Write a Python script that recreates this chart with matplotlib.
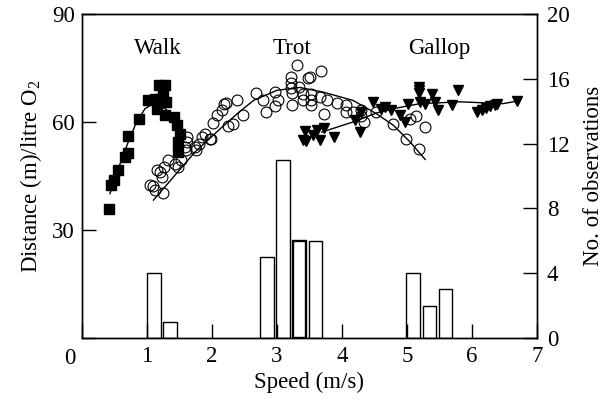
import matplotlib
matplotlib.use("Agg")
import matplotlib.pyplot as plt

plt.rcParams['font.family'] = ['Liberation Serif', 'DejaVu Serif']
plt.rcParams['mathtext.fontset'] = 'custom'
plt.rcParams['mathtext.rm'] = 'Liberation Serif'

# ---------------- data ----------------
walk_speed = [0.42, 0.45, 0.50, 0.56, 0.66, 0.71, 0.71, 0.87, 1.02, 1.12, 1.19, 1.27,
              1.25, 1.15, 1.27, 1.42, 1.46, 1.51, 1.48, 1.48, 1.20, 1.30]
walk_dist = [35.9, 42.4, 44.0, 46.8, 50.3, 51.5, 56.1, 60.7, 66.0, 66.3, 70.2, 70.2,
             67.6, 63.7, 61.9, 61.4, 59.1, 56.8, 54.4, 51.7, 66.5, 65.5]

trot_speed = [1.05, 1.10, 1.13, 1.24, 1.15, 1.23, 1.26, 1.20, 1.33, 1.43, 1.47, 1.53,
              1.58, 1.61, 1.62, 1.60, 1.74, 1.76, 1.80, 1.84, 1.89, 1.97, 1.99, 2.02,
              2.07, 2.16, 2.18, 2.22, 2.38, 2.25, 2.32, 2.47, 2.68, 2.78, 2.83, 2.97,
              2.97, 3.02, 3.23, 3.23, 3.21, 3.21, 3.22, 3.31, 3.34, 3.40, 3.40, 3.47,
              3.51, 3.67, 3.52, 3.52, 3.52, 3.66, 3.72, 3.77, 3.92, 4.06, 4.06, 4.17,
              4.29, 4.30, 4.34, 4.52, 4.79, 5.04, 5.14, 5.28, 4.98, 5.19]
trot_dist = [42.4, 42.1, 41.0, 40.3, 46.6, 44.7, 47.5, 46.0, 49.4, 48.4, 47.5, 49.4,
             53.1, 55.8, 54.4, 52.1, 53.1, 52.1, 54.0, 55.8, 56.8, 55.4, 55.4, 59.7,
             61.9, 63.3, 65.1, 65.3, 66.2, 58.8, 59.4, 61.9, 68.1, 66.2, 62.8, 68.3,
             64.4, 66.0, 64.6, 68.1, 70.7, 72.5, 69.5, 75.7, 69.7, 67.9, 66.2, 72.1,
             72.5, 74.2, 67.9, 66.2, 64.6, 66.9, 62.1, 66.0, 65.3, 64.6, 62.8, 62.8,
             63.3, 61.6, 60.0, 62.8, 59.5, 60.7, 61.6, 58.6, 55.4, 52.6]

gallop_speed = [3.43, 3.45, 3.40, 3.55, 3.61, 3.66, 3.72, 3.87, 4.20, 4.28, 4.30, 4.47,
                4.60, 4.66, 4.76, 4.89, 4.97, 5.02, 5.18, 5.18, 5.18, 5.20, 5.28, 5.38,
                5.43, 5.48, 5.69, 5.79, 6.07, 6.15, 6.22, 6.28, 6.35, 6.39, 6.69]
gallop_dist = [57.5, 54.7, 55.0, 56.5, 57.7, 55.1, 58.4, 55.7, 60.5, 57.2, 62.8, 65.6,
               63.5, 64.2, 63.3, 61.9, 60.0, 65.1, 69.7, 68.8, 68.0, 65.6, 65.1, 67.9,
               65.6, 63.3, 64.6, 69.0, 62.8, 63.4, 64.0, 64.4, 64.6, 64.9, 65.8]

walk_curve_speed = [0.43, 0.50, 0.56, 0.64, 0.71, 0.84, 0.97, 1.05, 1.12, 1.20, 1.30]
walk_curve_dist = [40.1, 43.8, 47.1, 51.0, 54.4, 60.0, 63.7, 64.6, 64.8, 64.5, 63.5]

trot_curve_speed = [1.10, 1.43, 1.74, 2.12, 2.40, 2.64, 3.00, 3.35, 3.71, 4.17, 4.53, 4.79, 5.05, 5.28]
trot_curve_dist = [38.3, 45.2, 51.7, 58.0, 62.5, 66.0, 68.8, 69.6, 68.3, 66.0, 62.3, 59.1, 54.4, 49.6]

gallop_curve_speed = [3.69, 4.22, 4.53, 4.79, 5.20, 5.82, 6.48, 6.69]
gallop_curve_dist = [57.2, 60.3, 62.5, 63.7, 65.1, 65.6, 65.1, 65.8]

bar_left = [1.0, 1.25, 2.74, 2.99, 3.24, 3.49, 4.99, 5.24, 5.49]
bar_count = [4, 1, 5, 11, 6, 6, 4, 2, 3]

x_ticks = [0, 1, 2, 3, 4, 5, 6, 7]
left_ticks = [0, 30, 60, 90]
right_ticks = [0, 4, 8, 12, 16, 20]

gait_names = ['Walk', 'Trot', 'Gallop']
gait_label_x = [1.17, 3.23, 5.5]
gait_label_y = [80.5, 80.5, 80.5]

# ---------------- figure ----------------
fig = plt.figure(figsize=(6.16, 4.01), dpi=100)
ax = fig.add_axes([0.1331, 0.1571, 0.7386, 0.808])
ax2 = ax.twinx()

fs = 16.5

ax2.bar(bar_left, bar_count, width=0.21, align='edge', facecolor='none',
        edgecolor='black', linewidth=[1.0, 1.0, 1.0, 1.0, 1.7, 1.0, 1.0, 1.0, 1.0])

ax.plot(walk_curve_speed, walk_curve_dist, color='black', lw=1.0, zorder=2)
ax.plot(trot_curve_speed, trot_curve_dist, color='black', lw=1.0, zorder=2)
ax.plot(gallop_curve_speed, gallop_curve_dist, color='black', lw=1.0, zorder=2)

ax.plot(walk_speed, walk_dist, ls='none', marker='s', ms=6.5, mfc='black',
        mec='black', zorder=3)
ax.plot(trot_speed, trot_dist, ls='none', marker='o', ms=7.8, mfc='none',
        mec='black', mew=0.8, zorder=3)
ax.plot(gallop_speed, gallop_dist, ls='none', marker='v', ms=7.5, mfc='black',
        mec='black', zorder=3)

for name, gx, gy in zip(gait_names, gait_label_x, gait_label_y):
    ax.text(gx, gy, name, ha='center', va='center', fontsize=fs)

ax.set_xlim(0, 7)
ax.set_ylim(0, 90)
ax2.set_ylim(0, 20)

ax.set_xticks(x_ticks)
ax.set_xticklabels([''] + [str(t) for t in x_ticks[1:]])
ax.annotate('0', xy=(0, 0), xycoords='data', xytext=(-9, -7),
            textcoords='offset points', ha='center', va='top', fontsize=fs)
ax.set_yticks(left_ticks)
ax.set_yticklabels([''] + [str(t) for t in left_ticks[1:]])
ax2.set_yticks(right_ticks)

for a in (ax, ax2):
    a.tick_params(direction='in', length=10, width=1.0, labelsize=fs)
    for s in a.spines.values():
        s.set_linewidth(1.0)
ax.tick_params(axis='x', pad=6)
ax.tick_params(axis='y', pad=5)
ax2.tick_params(axis='y', pad=7)

ax.set_xlabel('Speed (m/s)', fontsize=fs, labelpad=3)
ax.set_ylabel('Distance (m)/litre O$_2$', fontsize=fs, labelpad=6)
ax2.set_ylabel('No. of observations', fontsize=fs, labelpad=10)

fig.savefig('out.png', dpi=100)
